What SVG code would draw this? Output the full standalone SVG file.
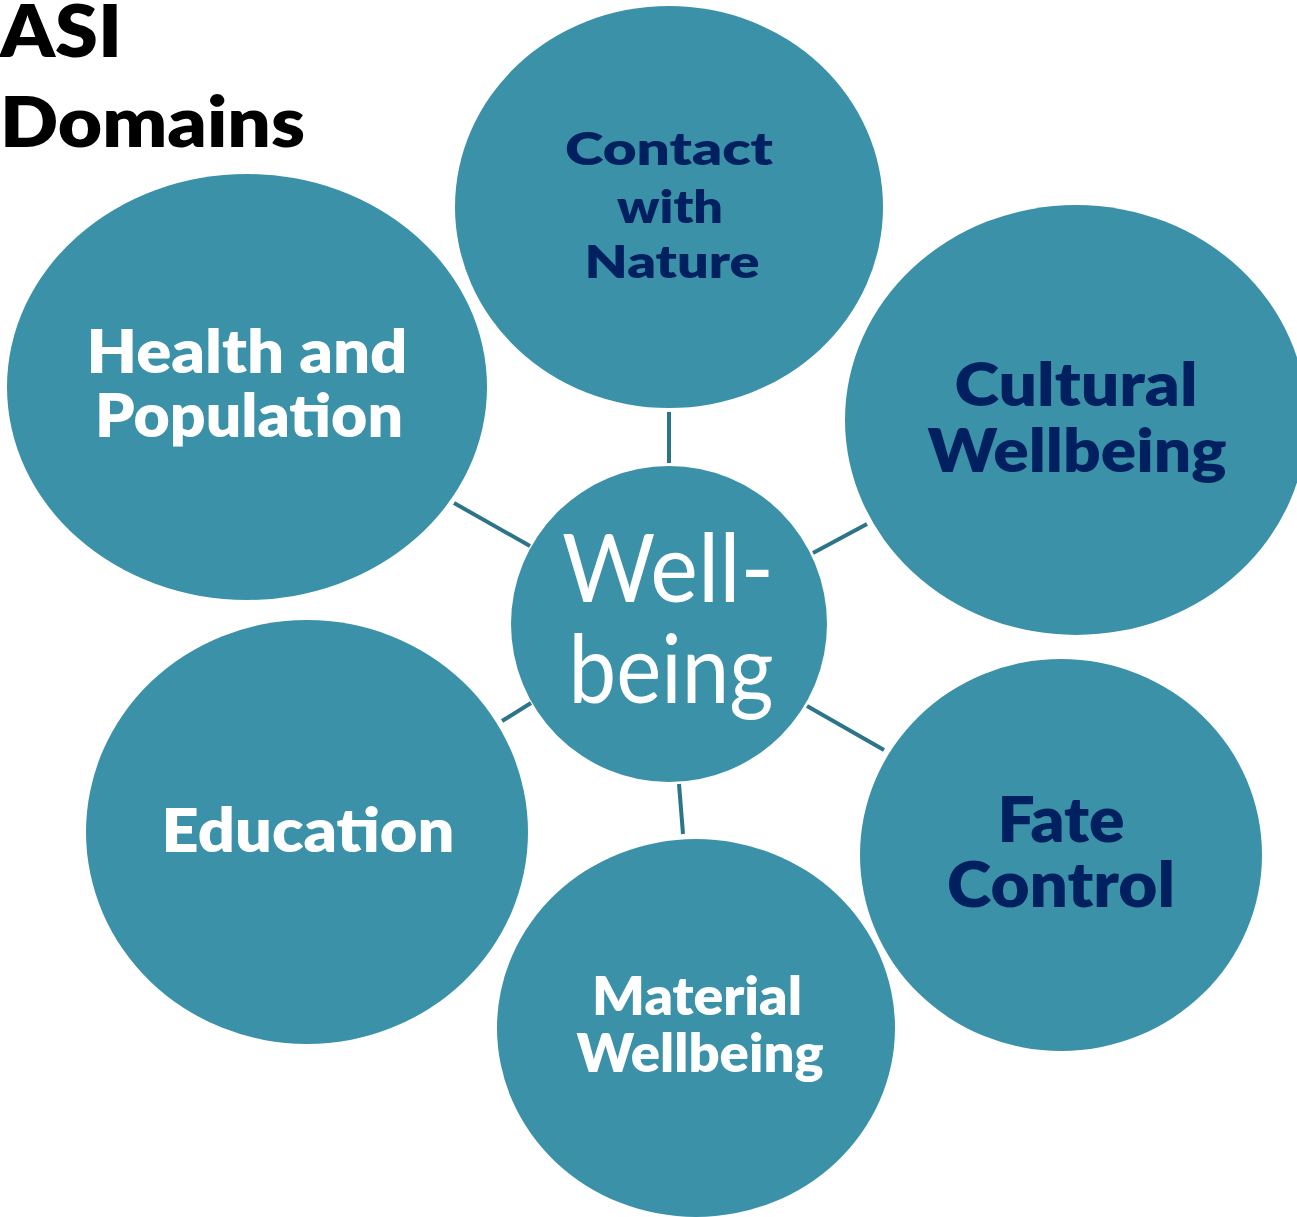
<svg xmlns="http://www.w3.org/2000/svg" width="1297" height="1217" viewBox="0 0 1297 1217">
<style>
.n{fill:#3A91A8}
.c line{stroke:#2C7589;stroke-width:4}
text{font-family:Lato,"Open Sans","Liberation Sans",sans-serif;text-anchor:middle}
.b{font-weight:800}
.w{fill:#FFFFFF}
.d{fill:#002060}
</style>
<rect width="1297" height="1217" fill="#FFFFFF"/>
<g id="title">
<text x="0" y="57" class="b" style="text-anchor:start" font-size="72" fill="#000" textLength="122" lengthAdjust="spacingAndGlyphs">ASI</text>
<text x="0" y="147" class="b" style="text-anchor:start" font-size="70" fill="#000" textLength="305" lengthAdjust="spacingAndGlyphs">Domains</text>
</g>
<g id="connectors" class="c">
<line x1="669" y1="412" x2="669" y2="463"/>
<line x1="454" y1="503" x2="530" y2="546"/>
<line x1="813" y1="553" x2="867" y2="524"/>
<line x1="502" y1="721" x2="531" y2="703"/>
<line x1="807" y1="706" x2="884" y2="750"/>
<line x1="679" y1="784" x2="683" y2="834"/>
</g>
<g id="contact">
<ellipse class="n" cx="669" cy="207" rx="214" ry="201"/>
<text class="b d" font-size="46" x="669" y="165" textLength="208" lengthAdjust="spacingAndGlyphs">Contact</text>
<text class="b d" font-size="46" x="670" y="223" textLength="106" lengthAdjust="spacingAndGlyphs">with</text>
<text class="b d" font-size="46" x="672" y="278" textLength="175" lengthAdjust="spacingAndGlyphs">Nature</text>
</g>
<g id="cultural">
<ellipse class="n" cx="1076" cy="420" rx="231" ry="215"/>
<text class="b d" font-size="60" x="1076" y="406" textLength="243" lengthAdjust="spacingAndGlyphs">Cultural</text>
<text class="b d" font-size="60" x="1077" y="472" textLength="299" lengthAdjust="spacingAndGlyphs">Wellbeing</text>
</g>
<g id="fate">
<ellipse class="n" cx="1061" cy="855" rx="201" ry="196"/>
<text class="b d" font-size="62" x="1061" y="842" textLength="127" lengthAdjust="spacingAndGlyphs">Fate</text>
<text class="b d" font-size="62" x="1061" y="907" textLength="228" lengthAdjust="spacingAndGlyphs">Control</text>
</g>
<g id="material">
<ellipse class="n" cx="696" cy="1028" rx="199" ry="189"/>
<text class="b w" font-size="52" x="697" y="1015" textLength="210" lengthAdjust="spacingAndGlyphs">Material</text>
<text class="b w" font-size="52" x="700" y="1072" textLength="247" lengthAdjust="spacingAndGlyphs">Wellbeing</text>
</g>
<g id="education">
<ellipse class="n" cx="307" cy="832" rx="221" ry="212"/>
<text class="b w" font-size="61" x="308" y="852" textLength="293" lengthAdjust="spacingAndGlyphs">Education</text>
</g>
<g id="health">
<ellipse class="n" cx="247" cy="387" rx="240" ry="213"/>
<text class="b w" font-size="60" x="247" y="373" textLength="321" lengthAdjust="spacingAndGlyphs">Health and</text>
<text class="b w" font-size="60" x="249" y="437" textLength="308" lengthAdjust="spacingAndGlyphs">Population</text>
</g>
<g id="wellbeing">
<circle class="n" cx="669" cy="624" r="158"/>
<text class="w" font-size="95" x="668" y="602" textLength="212" lengthAdjust="spacingAndGlyphs">Well-</text>
<text class="w" font-size="95" x="671" y="703" textLength="205" lengthAdjust="spacingAndGlyphs">being</text>
</g>
</svg>
